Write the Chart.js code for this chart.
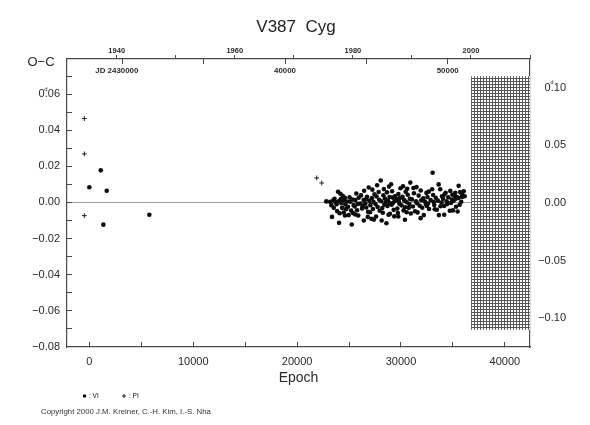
<!DOCTYPE html>
<html>
<head>
<meta charset="utf-8">
<title>V387 Cyg O-C</title>
<script src="https://cdn.jsdelivr.net/npm/chart.js@4.4.1/dist/chart.umd.min.js"></script>
<style>
  html, body { margin: 0; padding: 0; background: #fff; }
  #wrap { width: 590px; height: 425px; }
</style>
</head>
<body>
<div id="wrap"><canvas id="grafico"></canvas></div>
<script>
"use strict";
// Datos: época y O-C (días)
const viEpoch = [0, 1100, 1350, 1675, 5775,
  22810, 23170, 23300, 23360, 23460, 23530, 23600, 23690, 23800, 23850, 23940,
  24010, 24040, 24100, 24170, 24200, 24260, 24330, 24390, 24490, 24490, 24600, 24610, 24650, 24710, 24800, 24900, 24970,
  25050, 25130, 25200, 25260, 25350, 25400, 25450, 25550, 25610, 25610, 25700, 25770, 25850, 25890, 25930,
  26090, 26150, 26250, 26300, 26410, 26420, 26450, 26570, 26600, 26650, 26730, 26800, 26830, 26890, 26950,
  27020, 27050, 27150, 27200, 27250, 27300, 27350, 27400, 27450, 27550, 27600, 27650, 27700, 27750, 27850, 27900, 27950,
  28050, 28100, 28140, 28200, 28250, 28300, 28350, 28400, 28450, 28550, 28600, 28650, 28700, 28750, 28800, 28850, 28900, 28940, 28950,
  29050, 29100, 29150, 29200, 29250, 29300, 29350, 29400, 29450, 29550, 29650, 29700, 29740, 29750, 29800, 29850, 29900, 29950,
  30050, 30150, 30200, 30250, 30300, 30350, 30380, 30400, 30450, 30550, 30550, 30600, 30650, 30750, 30800, 30850, 30900, 30950,
  31050, 31150, 31200, 31250, 31350, 31450, 31500, 31550, 31600, 31700, 31800, 31890, 31900, 31950,
  32050, 32150, 32200, 32300, 32400, 32450, 32500, 32550, 32600, 32670, 32700, 32850,
  33000, 33050, 33100, 33150, 33200, 33250, 33350, 33450, 33550, 33630, 33650, 33780, 33800, 33900, 33950,
  34050, 34150, 34160, 34200, 34300, 34400, 34450, 34550, 34700, 34750, 34800, 34900, 34950,
  35000, 35050, 35150, 35230, 35250, 35300, 35400, 35450, 35550, 35550, 35650, 35700, 35800, 35870, 35900, 36040, 36130];
const viOC = [0.0084, 0.0178, -0.0123, 0.0065, -0.0068,
  0.0006, 0.0004, -0.0015, -0.0080, 0.0011, -0.0030, 0.0020, 0.0002, -0.0010, -0.0048, 0.0059,
  0.0007, -0.0113, -0.0060, 0.0048, 0.0019, -0.0004, -0.0030, 0.0037, 0.0011, -0.0056, 0.0026, -0.0072, -0.0011, -0.0037, 0.0005, -0.0024, -0.0070,
  0.0028, 0.0004, -0.0045, -0.0122, 0.0016, -0.0060, -0.0015, -0.0022, 0.0013, -0.0067, 0.0050, -0.0043, -0.0008, -0.0072, 0.0026,
  -0.0006, 0.0039, -0.0033, -0.0019, 0.0013, -0.0100, 0.0065, -0.0006, 0.0018, -0.0028, 0.0031, -0.0080, -0.0052, 0.0083, 0.0009,
  -0.0054, -0.0015, -0.0090, 0.0024, 0.0071, -0.0036, 0.0003, -0.0095, 0.0045, -0.0009, -0.0078, 0.0033, 0.0095, -0.0025, 0.0058, 0.0015, -0.0046,
  0.0122, 0.0007, -0.0100, -0.0031, -0.0057, 0.0040, 0.0074, -0.0012, 0.0022, 0.0002, -0.0115, 0.0056, -0.0020, 0.0010, -0.0068, 0.0088, 0.0030, -0.0063, -0.0005,
  0.0101, -0.0013, 0.0062, 0.0027, -0.0002, -0.0041, -0.0077, 0.0008, 0.0036, 0.0019, -0.0034, -0.0059, -0.0078, 0.0047, 0.0004, -0.0007, 0.0025, 0.0079,
  -0.0016, 0.0032, 0.0090, -0.0044, 0.0014, 0.0009, -0.0096, -0.0027, 0.0060, 0.0001, -0.0054, 0.0076, 0.0043, -0.0030, -0.0009, 0.0020, 0.0110, -0.0061,
  0.0017, -0.0022, 0.0080, 0.0051, -0.0049, 0.0006, 0.0085, -0.0004, -0.0055, 0.0038, -0.0018, -0.0087, 0.0066, 0.0012,
  -0.0029, 0.0023, -0.0070, 0.0005, -0.0010, 0.0053, -0.0019, 0.0030, -0.0006, 0.0060, -0.0036, 0.0013,
  0.0073, 0.0165, 0.0041, 0.0003, -0.0014, -0.0038, 0.0026, -0.0040, 0.0010, 0.0100, -0.0070, 0.0073, -0.0021, 0.0000, 0.0034,
  0.0020, -0.0019, -0.0068, 0.0045, 0.0054, 0.0007, -0.0009, 0.0029, -0.0046, 0.0064, -0.0003, 0.0016, 0.0043,
  -0.0044, 0.0008, 0.0037, 0.0054, 0.0019, -0.0024, 0.0030, -0.0050, 0.0092, 0.0025, -0.0013, 0.0058, 0.0004, 0.0045, 0.0031, 0.0062, 0.0034];
const piEpoch = [-480, -480, -480, 21890, 22370];
const piOC = [0.0465, 0.0269, -0.0073, 0.0136, 0.0108];

// Marcas y etiquetas de los ejes
const epochTicks = [0, 5000, 10000, 15000, 20000, 25000, 30000, 35000, 40000];
const epochTickLabels = ["0", "", "10000", "", "20000", "", "30000", "", "40000"];
const yearTicks = [1940, 1950, 1960, 1970, 1980, 1990, 2000, 2010];
const yearTickLabels = ["1940", "", "1960", "", "1980", "", "2000", ""];
const jdTicks = [30000, 35000, 40000, 45000, 50000, 55000]; // JD - 2400000
const jdTickLabels = ["JD 2430000     ", "", "40000", "", "50000", ""];
const ocTicks = [-0.08, -0.07, -0.06, -0.05, -0.04, -0.03, -0.02, -0.01, 0, 0.01, 0.02, 0.03, 0.04, 0.05, 0.06, 0.07];
const ocTickLabels = ["\u22120.08", "", "\u22120.06", "", "\u22120.04", "", "\u22120.02", "", "0.00", "", "0.02", "", "0.04", "", "0.06", ""];
const ocRightTicks = [-0.10, -0.05, 0, 0.05, 0.10];
const ocRightTickLabels = ["\u22120.10", "\u22120.05", "0.00", "0.05", "0.10"];

// Rangos de los ejes
const epochMin = -2150, epochMax = 42420;
const ocMin = -0.0801, ocMax = 0.0795;
const ocRightMin = -0.125, ocRightMax = 0.125;
const yearMin = 1931.58, yearMax = 2010;
const jdMin = 26601, jdMax = 55058;
// Zona rayada (época inicial, O-C en la escala derecha)
const hatchStart = 36750, hatchTop = 0.11, hatchBottom = -0.11;

const axisColor = "#4a4a4a";
const textColor = "#2a2a2a";
const fuente = "'Liberation Sans', Arial, sans-serif";
Chart.defaults.font.family = fuente;
Chart.defaults.color = textColor;

function toPoints(xs, ys) {
    return xs.map((x, i) => ({ x: x, y: ys[i] }));
}
function fijarTicks(valores) {
    return (s) => { s.ticks = valores.map(v => ({ value: v })); };
}
function patronRayado() {
    const c = document.createElement("canvas");
    c.width = 3;
    c.height = 3;
    const g = c.getContext("2d");
    g.fillStyle = "#fff";
    g.fillRect(0, 0, 3, 3);
    g.fillStyle = "#555";
    g.fillRect(0, 0, 3, 1);
    g.fillRect(0, 0, 1, 3);
    return g.createPattern(c, "repeat");
}

// Textos sueltos: título, O-C, marcas "d", leyenda y copyright
const textos = {
    id: "textos",
    afterDraw(chart) {
        const ctx = chart.ctx;
        const sL = chart.scales.y;
        const sR = chart.scales.yR;
        ctx.save();
        ctx.fillStyle = "#222";
        ctx.textBaseline = "middle";
        ctx.textAlign = "center";
        ctx.font = "17px " + fuente;
        ctx.fillText("V387  Cyg", 296, 27);

        ctx.fillStyle = textColor;
        ctx.font = "13px " + fuente;
        ctx.fillText("O\u2212C", 41, 62.5);

        ctx.font = "11px " + fuente;
        const wZero = ctx.measureText("0").width;
        const leftEdgeL = sL.right - 7 - ctx.measureText("0.06").width;
        const leftEdgeR = sR.right - ctx.measureText("0.10").width;
        ctx.font = "6px " + fuente;
        ctx.fillText("d", leftEdgeL + wZero + 1.3, sL.getPixelForValue(0.06) - 5);
        ctx.fillText("d", leftEdgeR + wZero + 1.3, sR.getPixelForValue(0.10) - 5);

        // leyenda
        ctx.fillStyle = "#111";
        ctx.beginPath();
        ctx.arc(84.5, 396, 1.8, 0, Math.PI * 2);
        ctx.fill();
        ctx.strokeStyle = "#222";
        ctx.lineWidth = 1;
        ctx.beginPath();
        ctx.moveTo(122, 396);
        ctx.lineTo(126, 396);
        ctx.moveTo(124, 394);
        ctx.lineTo(124, 398);
        ctx.stroke();
        ctx.textAlign = "left";
        ctx.font = "6.5px " + fuente;
        ctx.fillText(": VI", 89, 396.5);
        ctx.fillText(": PI", 129, 396.5);

        ctx.fillStyle = "#333";
        ctx.font = "7.8px " + fuente;
        ctx.fillText("Copyright 2000 J.M. Kreiner, C.-H. Kim, I.-S. Nha", 41, 412);
        ctx.restore();
    }
};

const ctx = document.getElementById("grafico");
const grafico = new Chart(ctx, {
    type: "scatter",
    data: {
        datasets: [
            {
                label: "VI",
                data: toPoints(viEpoch, viOC),
                pointStyle: "circle",
                pointRadius: 2.3,
                pointBorderWidth: 0,
                backgroundColor: "#0d0d0d",
                borderColor: "#0d0d0d",
                order: 1
            },
            {
                label: "PI",
                data: toPoints(piEpoch, piOC),
                pointStyle: "cross",
                pointRadius: 2.4,
                pointBorderWidth: 1,
                borderColor: "#222",
                backgroundColor: "#222",
                order: 1
            },
            {
                type: "line",
                label: "sin datos",
                yAxisID: "yR",
                data: [{ x: hatchStart, y: hatchTop }, { x: epochMax, y: hatchTop }],
                showLine: true,
                borderWidth: 0,
                borderColor: "#555",
                pointRadius: 0,
                backgroundColor: patronRayado(),
                fill: { value: hatchBottom },
                order: 5
            }
        ]
    },
    options: {
        responsive: true,
        maintainAspectRatio: false,
        animation: false,
        events: [],
        layout: { padding: { left: 0, top: 0, bottom: 0, right: 24 } },
        plugins: {
            legend: { display: false },
            tooltip: { enabled: false },
            title: { display: false }
        },
        scales: {
            x: {
                type: "linear",
                position: "bottom",
                min: epochMin,
                max: epochMax,
                afterBuildTicks: fijarTicks(epochTicks),
                afterFit: (s) => { s.height = 78; },
                border: { color: axisColor, width: 1.2 },
                grid: { drawOnChartArea: false, tickLength: -5, tickColor: axisColor, tickWidth: 1 },
                ticks: {
                    autoSkip: false,
                    maxRotation: 0,
                    padding: 13,
                    font: { size: 11 },
                    callback: (v, i) => epochTickLabels[i]
                },
                title: {
                    display: true,
                    text: "Epoch",
                    font: { size: 14 },
                    padding: { top: 0, bottom: 38.6 }
                }
            },
            xYear: {
                type: "linear",
                position: "top",
                weight: 1,
                min: yearMin,
                max: yearMax,
                afterBuildTicks: fijarTicks(yearTicks),
                afterFit: (s) => { s.height = 59; },
                border: { color: axisColor, width: 1.2 },
                grid: { drawOnChartArea: false, tickLength: 4, tickColor: axisColor, tickWidth: 1 },
                ticks: {
                    autoSkip: false,
                    maxRotation: 0,
                    padding: 0,
                    font: { size: 7.5, weight: "bold" },
                    callback: (v, i) => yearTickLabels[i]
                }
            },
            xJD: {
                type: "linear",
                position: "top",
                weight: 0,
                min: jdMin,
                max: jdMax,
                afterBuildTicks: fijarTicks(jdTicks),
                afterFit: (s) => { s.height = 0; },
                border: { display: false },
                grid: { drawOnChartArea: false, tickLength: -5, tickColor: axisColor, tickWidth: 1 },
                ticks: {
                    mirror: true,
                    autoSkip: false,
                    maxRotation: 0,
                    padding: 6.6,
                    font: { size: 7.9, weight: "bold" },
                    callback: (v, i) => jdTickLabels[i]
                }
            },
            y: {
                type: "linear",
                position: "left",
                min: ocMin,
                max: ocMax,
                afterBuildTicks: fijarTicks(ocTicks),
                afterFit: (s) => { s.width = 67; },
                border: { color: axisColor, width: 1.2 },
                grid: {
                    tickLength: -5,
                    tickColor: axisColor,
                    tickWidth: 1,
                    lineWidth: 1,
                    color: (c) => (c.tick && c.tick.value === 0 ? "#a0a0a0" : "rgba(0,0,0,0)")
                },
                ticks: {
                    autoSkip: false,
                    padding: 12,
                    font: { size: 11 },
                    callback: (v, i) => ocTickLabels[i]
                }
            },
            yR: {
                type: "linear",
                position: "right",
                min: ocRightMin,
                max: ocRightMax,
                afterBuildTicks: fijarTicks(ocRightTicks),
                afterFit: (s) => { s.width = 36; },
                border: { color: axisColor, width: 1.2 },
                grid: { drawOnChartArea: false, drawTicks: false },
                ticks: {
                    autoSkip: false,
                    padding: 8,
                    crossAlign: "far",
                    font: { size: 11 },
                    callback: (v, i) => ocRightTickLabels[i]
                }
            }
        }
    },
    plugins: [textos]
});
</script>
</body>
</html>
